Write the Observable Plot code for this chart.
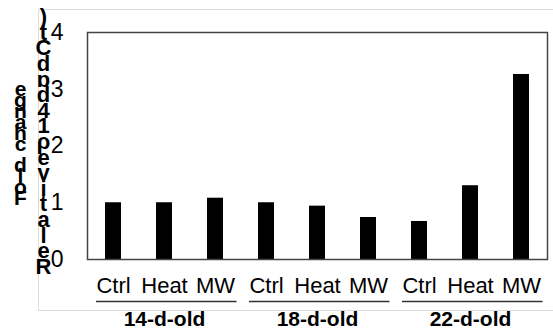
<!DOCTYPE html>
<html>
<head>
<meta charset="utf-8">
<script src="https://cdn.jsdelivr.net/npm/d3@7"></script>
<script src="https://cdn.jsdelivr.net/npm/@observablehq/plot@0.6"></script>
<style>
  html, body { margin: 0; padding: 0; background: white; }
  #wrap { position: relative; width: 553px; height: 329px; overflow: hidden; font-family: "Liberation Sans", Arial, sans-serif; }
  #border { position: absolute; left: 38px; top: 9px; width: 600px; height: 300px; border: 1px solid #dcdcdc; pointer-events: none; }
</style>
</head>
<body>
<div id="wrap"><div id="border"></div></div>
<script>
const groups = ["14-d-old", "18-d-old", "22-d-old"];
const treatments = ["Ctrl", "Heat", "MW"];
const values = [1.0, 1.0, 1.08, 1.0, 0.94, 0.74, 0.67, 1.30, 3.26];
const yTicks = [0, 1, 2, 3, 4];
const labelOuter = ["e", "g", "n", "a", "h", "c", " ", "d", "l", "o", "F"];
const labelInner = [")", "t", "C", "d", "ɒ", "d", "4", "1", "ρ", "e", "v", "i", "t", "a", "l", "e", "R"];

const data = groups.flatMap((g, i) => treatments.map((t, j) => ({
  key: g + "|" + t, group: g, treatment: t, value: values[i * 3 + j]
})));
const keys = data.map(d => d.key);
const groupData = groups.map(g => ({
  group: g,
  first: g + "|" + treatments[0],
  mid: g + "|" + treatments[1],
  last: g + "|" + treatments[2]
}));

const chart = Plot.plot({
  width: 553,
  height: 329,
  marginLeft: 87,
  marginRight: 6,
  marginTop: 32,
  marginBottom: 70,
  style: { background: "transparent", fontFamily: "'Liberation Sans', Arial, sans-serif", color: "black", overflow: "visible" },
  x: { type: "band", domain: keys, paddingInner: 0.68, paddingOuter: 0.34 },
  y: { domain: [0, 4] },
  marks: [
    Plot.barY(data, { x: "key", y: "value", fill: "black" }),
    Plot.frame({ stroke: "#444", strokeWidth: 1.5 }),
    Plot.axisY({ ticks: yTicks, tickFormat: d3.format("d"), tickSize: 0, tickPadding: 24, fontSize: 23, label: null }),
    Plot.axisX({ tickSize: 0, tickPadding: 18, fontSize: 22, label: null, tickFormat: d => d.split("|")[1] }),
    Plot.ruleY(groupData, { x1: "first", x2: "last", y: () => 0, dy: 42, insetLeft: -9, insetRight: -13.5, stroke: "#333", strokeWidth: 1.5 }),
    Plot.text(groupData, { x: "mid", text: "group", frameAnchor: "bottom", dy: 60, fontSize: 21, fontWeight: "bold", lineAnchor: "middle" }),
    Plot.text([labelOuter.join("\n")], { text: d => d, frameAnchor: "left", dx: -67, dy: 1, fontSize: 21, fontWeight: "bold", lineHeight: 0.52, textAnchor: "middle", lineAnchor: "middle" }),
    Plot.text([labelInner.join("\n")], { text: d => d, frameAnchor: "left", dx: -44, dy: -2, fontSize: 22, fontWeight: "bold", lineHeight: 0.71, textAnchor: "middle", lineAnchor: "middle" })
  ]
});
chart.style.position = "absolute";
chart.style.left = "0px";
chart.style.top = "0px";
document.getElementById("wrap").appendChild(chart);
</script>
</body>
</html>
